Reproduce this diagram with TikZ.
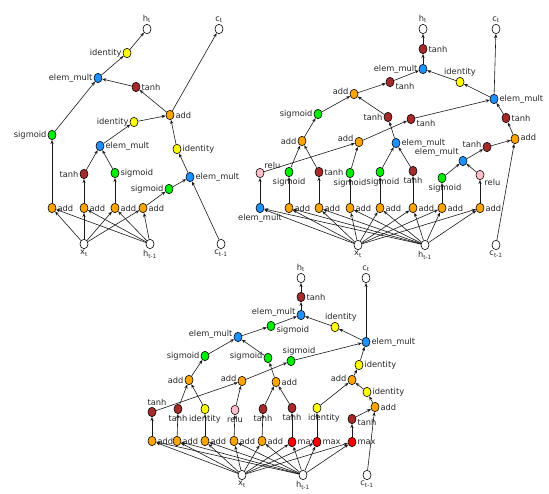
\documentclass[tikz,border=0pt]{standalone}
\usepackage{fontspec}
\setmainfont{DejaVu Sans}
\usetikzlibrary{shapes.geometric,arrows.meta}

\definecolor{addcol}{HTML}{FFA500}
\definecolor{multcol}{HTML}{1E90FF}
\definecolor{sigcol}{HTML}{00EE00}
\definecolor{tanhcol}{HTML}{A52A2A}
\definecolor{idcol}{HTML}{FFFF00}
\definecolor{relucol}{HTML}{FFC0CB}
\definecolor{maxcol}{HTML}{FF0000}

\tikzset{
  op/.style={ellipse,draw=black,line width=0.6pt,minimum width=8pt,minimum height=9.5pt,inner sep=0pt},
  io/.style={op,fill=white},
  addn/.style={op,fill=addcol},
  muln/.style={op,fill=multcol},
  sigm/.style={op,fill=sigcol},
  tanhn/.style={op,fill=tanhcol},
  idn/.style={op,fill=idcol},
  relun/.style={op,fill=relucol},
  maxn/.style={op,fill=maxcol},
  every label/.style={inner sep=1pt,text=black!85}
}

\begin{document}
\begin{tikzpicture}[x=1pt,y=-1pt,font=\fontsize{8.3}{9}\selectfont,>={Stealth[length=4pt,width=3.2pt]}]
\useasboundingbox (0,0) rectangle (549,493);

% standard lstm cell
\begin{scope}
  \node[io,label=above:h\textsubscript{t}] (Lht) at (147,29) {};
  \node[io,label=above:c\textsubscript{t}] (Lct) at (219,29) {};
  \node[idn,label=left:identity] (Lid1) at (127,53) {};
  \node[muln,label=left:elem\_mult] (Lem1) at (98,78) {};
  \node[tanhn,label=right:tanh] (Lth1) at (136,87) {};
  \node[addn,label=right:add] (Lad1) at (170,115) {};
  \node[idn,label=left:identity] (Lid2) at (134,122) {};
  \node[sigm,label=left:sigmoid] (Lsg1) at (52,135) {};
  \node[muln,label=right:elem\_mult] (Lem2) at (100,146) {};
  \node[idn,label=right:identity] (Lid3) at (177,149) {};
  \node[tanhn,label=left:tanh] (Lth2) at (84,174) {};
  \node[sigm,label=right:sigmoid] (Lsg2) at (115,173) {};
  \node[muln,label=right:elem\_mult] (Lem3) at (190,177) {};
  \node[sigm,label=left:sigmoid] (Lsg3) at (169,189) {};
  \node[addn,label=right:add] (Lad2) at (52,208) {};
  \node[addn,label=right:add] (Lad3) at (84,208) {};
  \node[addn,label=right:add] (Lad4) at (115,208) {};
  \node[addn,label=right:add] (Lad5) at (143,208) {};
  \node[io,label=below:x\textsubscript{t}] (Lxt) at (84,244) {};
  \node[io,label=below:h\textsubscript{t-1}] (Lhp) at (150,244) {};
  \node[io,label=below:c\textsubscript{t-1}] (Lcp) at (221,244) {};
\end{scope}

% found cell, right
\begin{scope}
  \node[io,label=above:h\textsubscript{t}] (Rht) at (423,29) {};
  \node[io,label=above:c\textsubscript{t}] (Rct) at (496,29) {};
  \node[tanhn,label=right:tanh] (Rth1) at (423,49) {};
  \node[muln,label=left:elem\_mult] (Rem1) at (423,69) {};
  \node[tanhn,label={[yshift=-4pt]right:tanh}] (Rth2) at (390,82) {};
  \node[idn,label=above:identity] (Rid1) at (460,82) {};
  \node[addn,label={[yshift=3pt]left:add}] (Rad1) at (354,94) {};
  \node[muln,label=right:elem\_mult] (Rem2) at (494,99) {};
  \node[sigm,label=left:sigmoid] (Rsg1) at (318,114) {};
  \node[tanhn,label=left:tanh] (Rth3) at (388,117) {};
  \node[tanhn,label={[yshift=-4pt]right:tanh}] (Rth4) at (411,119) {};
  \node[tanhn,label=right:tanh] (Rth5) at (506,118) {};
  \node[addn,label=left:add] (Rad2) at (302,141) {};
  \node[addn,label={[yshift=4pt]left:add}] (Rad3) at (359,142) {};
  \node[muln,label=right:elem\_mult] (Rem3) at (396,143) {};
  \node[tanhn,label={[yshift=3pt]left:tanh}] (Rth6) at (487,147) {};
  \node[addn,label={[yshift=2pt]right:add}] (Rad4) at (515,139) {};
  \node[muln,label=above left:elem\_mult] (Rem4) at (463,161) {};
  \node[relun,label=above right:relu] (Rrl1) at (260,173) {};
  \node[sigm,label=below:sigmoid] (Rsg2) at (289,172) {};
  \node[tanhn,label=right:tanh] (Rth7) at (319,172) {};
  \node[sigm,label=below:sigmoid] (Rsg3) at (350,173) {};
  \node[sigm,label={[xshift=3pt]below:sigmoid}] (Rsg4) at (380,172) {};
  \node[tanhn,label=below:tanh] (Rth8) at (413,171) {};
  \node[sigm,label={[xshift=3pt]below:sigmoid}] (Rsg5) at (442,178) {};
  \node[relun,label=below right:relu] (Rrl2) at (480,175) {};
  \node[muln,label=below:elem\_mult] (Rem5) at (260,208) {};
  \node[addn,label=right:add] (Rad5) at (289,208) {};
  \node[addn,label=right:add] (Rad6) at (319,208) {};
  \node[addn,label=right:add] (Rad7) at (350,208) {};
  \node[addn,label=right:add] (Rad8) at (380,208) {};
  \node[addn,label=right:add] (Rad9) at (413,208) {};
  \node[addn,label=right:add] (Rad10) at (442,208) {};
  \node[addn,label=right:add] (Rad11) at (480,208) {};
  \node[io,label=below:x\textsubscript{t}] (Rxt) at (358,245) {};
  \node[io,label=below:h\textsubscript{t-1}] (Rhp) at (425,245) {};
  \node[io,label=below:c\textsubscript{t-1}] (Rcp) at (496,245) {};
\end{scope}

% found cell, bottom
\begin{scope}
  \node[io,label=above:h\textsubscript{t}] (Bht) at (301,278) {};
  \node[io,label=above:c\textsubscript{t}] (Bct) at (366,278) {};
  \node[tanhn,label=right:tanh] (Bth1) at (301,297) {};
  \node[muln,label={[yshift=3pt]left:elem\_mult}] (Bem1) at (301,315) {};
  \node[sigm,label={[yshift=-4pt]right:sigmoid}] (Bsg1) at (271,326) {};
  \node[idn,label={[xshift=6pt]above:identity}] (Bid1) at (335,327) {};
  \node[muln,label={[yshift=3pt]left:elem\_mult}] (Bem2) at (238,337) {};
  \node[muln,label=right:elem\_mult] (Bem3) at (366,342) {};
  \node[sigm,label=left:sigmoid] (Bsg2) at (205,356) {};
  \node[sigm,label={[yshift=2pt]left:sigmoid}] (Bsg3) at (268,358) {};
  \node[sigm,label={[xshift=8pt]above:sigmoid}] (Bsg4) at (291,361) {};
  \node[idn,label=right:identity] (Bid2) at (359,365) {};
  \node[addn,label=left:add] (Bad1) at (189,380) {};
  \node[addn,label={[yshift=3pt]left:add}] (Bad2) at (242,381) {};
  \node[addn,label=right:add] (Bad3) at (276,382) {};
  \node[addn,label={[yshift=2pt]left:add}] (Bad4) at (352,380) {};
  \node[idn,label=right:identity] (Bid3) at (367,392) {};
  \node[addn,label=right:add] (Bad5) at (375,407) {};
  \node[tanhn,label={[xshift=5pt]above:tanh}] (Bth2) at (152,412) {};
  \node[tanhn,label=below:tanh] (Bth3) at (178,409) {};
  \node[idn,label=below:identity] (Bid4) at (205,409) {};
  \node[relun,label=below:relu] (Brl1) at (235,410) {};
  \node[tanhn,label=below:tanh] (Bth4) at (263,409) {};
  \node[tanhn,label=below:tanh] (Bth5) at (292,408) {};
  \node[idn,label={[xshift=7pt]below:identity}] (Bid5) at (317,408) {};
  \node[tanhn,label={[yshift=-3pt]right:tanh}] (Bth6) at (352,419) {};
  \node[addn,label=right:add] (Bad6) at (152,441) {};
  \node[addn,label=right:add] (Bad7) at (177,441) {};
  \node[addn,label=right:add] (Bad8) at (205,441) {};
  \node[addn,label=right:add] (Bad9) at (234,441) {};
  \node[addn,label=right:add] (Bad10) at (262,441) {};
  \node[maxn,label=right:max] (Bmx1) at (292,442) {};
  \node[maxn,label=right:max] (Bmx2) at (317,442) {};
  \node[maxn,label=right:max] (Bmx3) at (352,442) {};
  \node[io,label=below:x\textsubscript{t}] (Bxt) at (242,475) {};
  \node[io,label=below:h\textsubscript{t-1}] (Bhp) at (303,475) {};
  \node[io,label=below:c\textsubscript{t-1}] (Bcp) at (367,475) {};
\end{scope}

\begin{scope}[every edge/.style={draw=black!90,line width=0.6pt}]
  % left
  \path [->] (Lid1) edge (Lht) (Lem1) edge (Lid1) (Lth1) edge (Lem1) (Lsg1) edge (Lem1);
  \path [->] (Lad1) edge (Lth1) (Lad1) edge (Lct) (Lid2) edge (Lad1) (Lid3) edge (Lad1);
  \path [->] (Lem2) edge (Lid2) (Lth2) edge (Lem2) (Lsg2) edge (Lem2);
  \path [->] (Lem3) edge (Lid3) (Lsg3) edge (Lem3) (Lcp) edge (Lem3);
  \path [->] (Lad2) edge (Lsg1) (Lad3) edge (Lth2) (Lad4) edge (Lsg2) (Lad5) edge (Lsg3);
  \foreach \n in {Lad2,Lad3,Lad4,Lad5}
    \path [->] (Lxt) edge (\n) (Lhp) edge (\n);
  % right
  \path [->] (Rth1) edge (Rht) (Rem1) edge (Rth1) (Rth2) edge (Rem1) (Rid1) edge (Rem1);
  \path [->] (Rem2) edge (Rid1) (Rem2) edge (Rct) (Rad1) edge (Rth2);
  \path [->] (Rsg1) edge (Rad1) (Rth3) edge (Rad1) (Rth4) edge (Rem2) (Rth5) edge (Rem2);
  \path [->] (Rad2) edge (Rsg1) (Rem3) edge (Rth3) (Rad3) edge (Rth4) (Rad4) edge (Rth5);
  \path [->] (Rth6) edge (Rad4) (Rcp) edge (Rad4) (Rem4) edge (Rth6);
  \path [->] (Rsg2) edge (Rad2) (Rth7) edge (Rad2) (Rrl1) edge (Rad3) (Rsg3) edge (Rad3);
  \path [->] (Rsg4) edge (Rem3) (Rth8) edge (Rem3) (Rsg5) edge (Rem4) (Rrl2) edge (Rem4);
  \path [->] (Rem5) edge (Rrl1) (Rad5) edge (Rsg2) (Rad6) edge (Rth7) (Rad7) edge (Rsg3);
  \path [->] (Rad8) edge (Rsg4) (Rad9) edge (Rth8) (Rad10) edge (Rsg5) (Rad11) edge (Rrl2);
  \foreach \n in {Rem5,Rad5,Rad6,Rad7,Rad8,Rad9,Rad10,Rad11}
    \path [->] (Rxt) edge (\n) (Rhp) edge (\n);
  % bottom
  \path [->] (Bth1) edge (Bht) (Bem1) edge (Bth1) (Bsg1) edge (Bem1) (Bid1) edge (Bem1);
  \path [->] (Bem3) edge (Bid1) (Bem3) edge (Bct) (Bem2) edge (Bsg1);
  \path [->] (Bsg2) edge (Bem2) (Bsg3) edge (Bem2) (Bsg4) edge (Bem3) (Bid2) edge (Bem3);
  \path [->] (Bad1) edge (Bsg2) (Bad3) edge (Bsg3) (Bad2) edge (Bsg4) (Bad4) edge (Bid2);
  \path [->] (Bid5) edge (Bad4) (Bid3) edge (Bad4) (Bad5) edge (Bid3);
  \path [->] (Bth6) edge (Bad5) (Bcp) edge (Bad5);
  \path [->] (Bth3) edge (Bad1) (Bid4) edge (Bad1) (Bth2) edge (Bad2) (Brl1) edge (Bad2);
  \path [->] (Bth4) edge (Bad3) (Bth5) edge (Bad3);
  \path [->] (Bad6) edge (Bth2) (Bad7) edge (Bth3) (Bad8) edge (Bid4) (Bad9) edge (Brl1);
  \path [->] (Bad10) edge (Bth4) (Bmx1) edge (Bth5) (Bmx2) edge (Bid5) (Bmx3) edge (Bth6);
  \foreach \n in {Bad6,Bad7,Bad8,Bad9,Bad10,Bmx1,Bmx2,Bmx3}
    \path [->] (Bxt) edge (\n) (Bhp) edge (\n);
\end{scope}
\end{tikzpicture}
\end{document}
